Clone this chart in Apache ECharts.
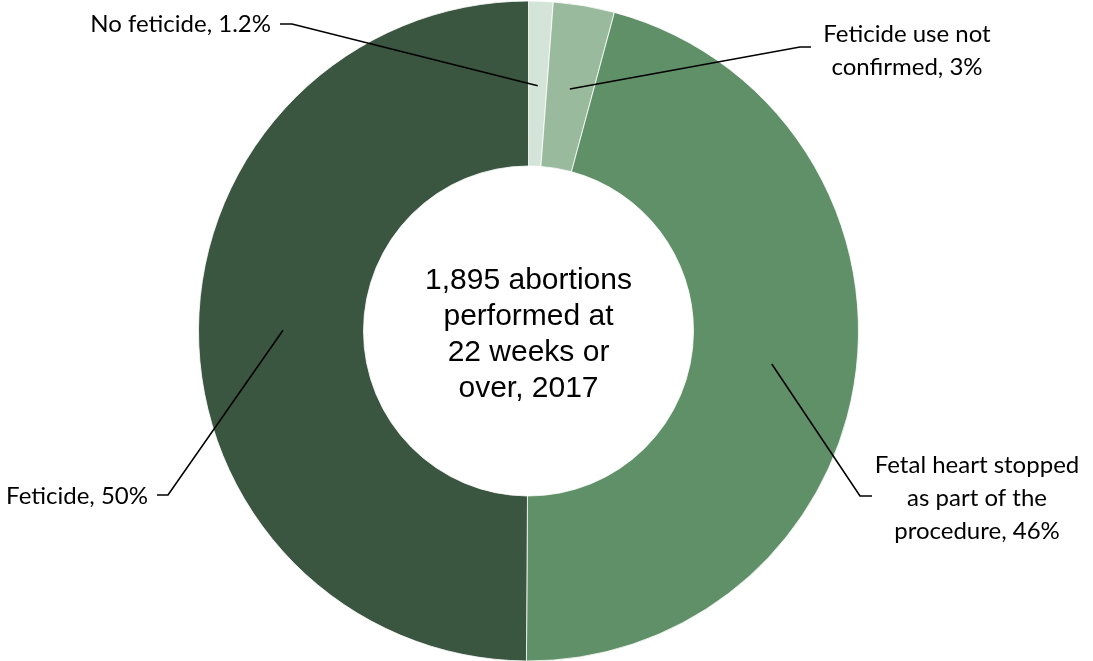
<!DOCTYPE html>
<html>
<head>
<meta charset="utf-8">
<script src="https://cdn.jsdelivr.net/npm/echarts@6/dist/echarts.min.js"></script>
<style>
  html, body { margin: 0; padding: 0; background: #ffffff; }
  #chart { width: 1093px; height: 661px; }
</style>
</head>
<body>
<div id="chart"></div>
<script>
// Late-term abortions by feticide status (percent of total)
const categories = [
  'No feticide',
  'Feticide use not\nconfirmed',
  'Fetal heart stopped\nas part of the\nprocedure',
  'Feticide'
];
const shares = [1.2, 3, 46, 50];
const sliceColors = ['#d5e4d8', '#9aba9e', '#609068', '#3b5640'];
const centerLines = ['1,895 abortions', 'performed at', '22 weeks or', 'over, 2017'];

// Ring geometry (pixels)
const CX = 528.5, CY = 331, R_IN = 165, R_OUT = 330;

// Where each label sits and how its leader bends
const labelSpots = [
  { x: 271, y: 24, align: 'right', elbow: [292, 24], end: [280, 24] },
  { x: 907, y: 51, align: 'center', elbow: [800, 47], end: [811, 47] },
  { x: 977, y: 498, align: 'center', elbow: [860, 496], end: [872, 496] },
  { x: 148, y: 496, align: 'right', elbow: [168, 495], end: [157, 495] }
];

// Mid-ring anchor point of each slice, from its share of the whole
const total = shares.reduce((a, b) => a + b, 0);
const anchors = [];
let acc = 0;
shares.forEach(v => {
  const mid = (acc + v / 2) / total * Math.PI * 2; // clockwise from 12 o'clock
  const rMid = (R_IN + R_OUT) / 2 - 2;
  anchors.push([CX + rMid * Math.sin(mid), CY - rMid * Math.cos(mid)]);
  acc += v;
});

// Leader lines drawn on top of the ring
const leaders = labelSpots.map((s, i) => ({
  type: 'polyline',
  z: 100,
  shape: { points: [anchors[i], s.elbow, s.end] },
  style: { stroke: '#000000', lineWidth: 1.6, fill: null }
}));

const chart = echarts.init(document.getElementById('chart'), null, { renderer: 'canvas' });

chart.setOption({
  animation: false,
  backgroundColor: '#ffffff',
  graphic: [{
    type: 'text',
    x: CX,
    y: CY + 4,
    z: 100,
    style: {
      text: centerLines.join('\n'),
      align: 'center',
      verticalAlign: 'middle',
      font: '30px "Liberation Sans", Arial, sans-serif',
      lineHeight: 36,
      fill: '#000000'
    }
  }].concat(leaders),
  series: [{
    type: 'pie',
    center: [CX, CY],
    radius: [R_IN, R_OUT],
    startAngle: 90,
    clockwise: true,
    avoidLabelOverlap: false,
    itemStyle: { borderColor: '#ffffff', borderWidth: 0.8 },
    emphasis: { disabled: true },
    data: categories.map((name, i) => ({
      name: name,
      value: shares[i],
      itemStyle: { color: sliceColors[i] }
    })),
    label: {
      show: true,
      formatter: p => p.name + ', ' + p.value + '%',
      fontFamily: 'Lato, "Noto Sans", sans-serif',
      fontSize: 24,
      lineHeight: 33,
      color: '#000000',
      align: 'center'
    },
    labelLine: { show: false },
    labelLayout: function (p) {
      const s = labelSpots[p.dataIndex];
      return {
        x: s.x,
        y: s.y,
        align: s.align,
        verticalAlign: 'middle'
      };
    }
  }]
});
</script>
</body>
</html>
